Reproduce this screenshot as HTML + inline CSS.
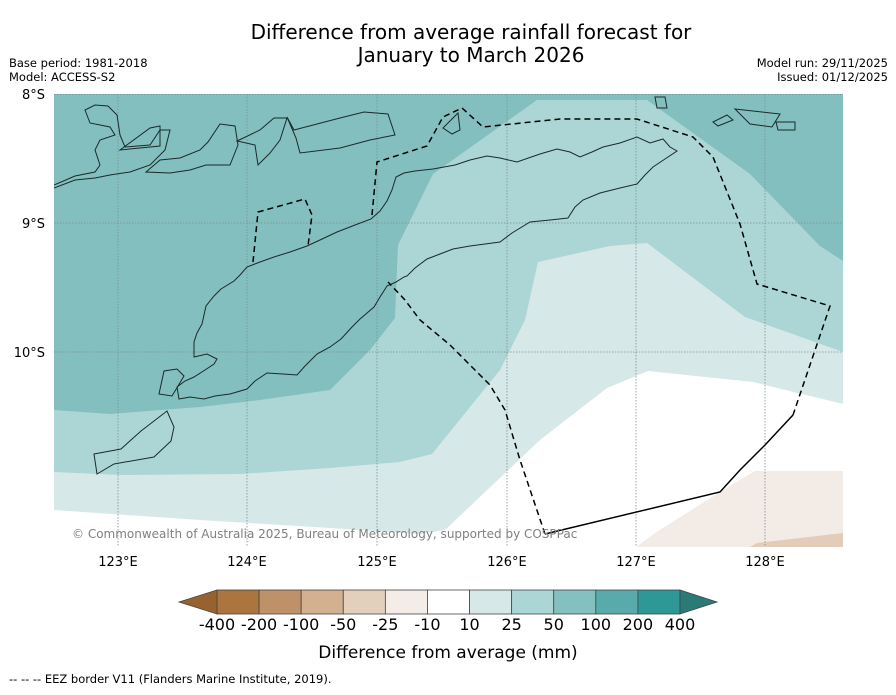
<!DOCTYPE html>
<html><head><meta charset="utf-8"><style>
body{margin:0;background:#fff;width:896px;height:690px;overflow:hidden;font-family:"Liberation Sans","DejaVu Sans",sans-serif}
svg text{font-family:"DejaVu Sans","Liberation Sans",sans-serif}
</style></head><body>
<svg width="896" height="690" viewBox="0 0 896 690">
<text x="471" y="39" font-size="20" text-anchor="middle">Difference from average rainfall forecast for</text>
<text x="471" y="62" font-size="20" text-anchor="middle">January to March 2026</text>
<text x="9" y="67" font-size="11.5">Base period: 1981-2018</text>
<text x="9" y="81" font-size="11.5">Model: ACCESS-S2</text>
<text x="888" y="67" font-size="11.5" text-anchor="end">Model run: 29/11/2025</text>
<text x="888" y="81" font-size="11.5" text-anchor="end">Issued: 01/12/2025</text>
<defs><clipPath id="mc"><rect x="54" y="94" width="789" height="453"/></clipPath></defs>
<g clip-path="url(#mc)">
<rect x="54" y="94" width="789" height="453" fill="#83bfbe"/>
<polygon fill="#acd6d5" points="400,241 433,174 537,100 647,100 750,174 820,246 843,261 843,547 54,547 54,410 110,414 200,407 260,400 330,390 370,350 395,318 398,245"/>
<polygon fill="#d6e9e8" points="843,352 745,317 647,243 610,246 538,262 525,320 500,370 432,454 400,462 330,468 240,474 120,475 54,472 54,547 843,547"/>
<polygon fill="#ffffff" points="54,510 200,520 330,528 420,534 445,530 540,440 607,388 648,371 753,382 843,404 843,547 54,547"/>
<polygon fill="#f3ebe5" points="636,547 655,533 720,492 755,471 843,471 843,547"/>
<polygon fill="#e3cdb9" points="750,547 757,543 843,533 843,547"/>
<g stroke="#7a9090" stroke-width="0.8" stroke-dasharray="1.5,1.5">
<line x1="118" y1="94" x2="118" y2="547"/><line x1="247" y1="94" x2="247" y2="547"/><line x1="377" y1="94" x2="377" y2="547"/><line x1="507" y1="94" x2="507" y2="547"/><line x1="636" y1="94" x2="636" y2="547"/><line x1="765" y1="94" x2="765" y2="547"/>
<line x1="54" y1="94.5" x2="843" y2="94.5"/><line x1="54" y1="223" x2="843" y2="223"/><line x1="54" y1="352" x2="843" y2="352"/>
</g>
<g fill="none" stroke="#1a2a2a" stroke-width="1">
<path d="M179,399 L190,397 204,399 215,396 230,394 247,389 255,381 267,373 283,374 297,375 305,366 317,354 330,347 341,339 352,327 360,319 374,307 380,297 387,286 396,282 404,277 407,276 415,268 427,259 440,254 453,249 470,246 500,242 512,233 530,222 550,220 568,218 575,207 583,200 600,193 620,188 637,184 645,175 653,167 665,159 677,151 670,147 663,139 650,143 637,137 620,143 603,147 592,152 580,157 570,152 557,149 540,154 517,162 500,158 487,156 470,160 455,165 433,169 415,171 404,173 396,177 392,190 387,201 380,211 371,219 355,225 337,232 320,240 307,246 290,252 274,257 260,262 247,267 240,275 234,281 221,289 214,296 206,306 204,315 202,324 197,333 194,342 194,357 207,354 217,359 214,364 205,370 194,377 185,381 177,387 179,399Z"/>
<path d="M159,394 L164,371 177,369 184,376 172,396Z"/>
<path d="M94,454 L121,449 141,431 167,411 174,427 171,441 154,457 114,464 97,474Z"/>
<path d="M54,185 L75,176 95,172 100,165 95,150 100,140 115,135 110,127 90,123 85,110 95,105 108,106 117,115 120,135 125,147 150,145 160,130 170,130 165,150 150,165 130,172 110,175 95,178 75,180 54,188"/>
<path d="M120,150 L150,128 160,126 160,146Z"/>
<path d="M146,172 L160,160 180,158 200,150 208,142 220,124 235,126 238,145 230,165 206,165 190,170 170,173Z"/>
<path d="M237,141 L260,130 274,118 287,118 280,140 270,153 258,165 255,145Z"/>
<path d="M296,138 L287,117 294,130 340,118 364,112 388,114 395,135 370,140 340,148 300,153Z"/>
<path d="M443,128 L458,113 460,130 452,134Z"/>
<path d="M655,97 L665,97 667,108 657,108Z"/>
<path d="M735,109 L780,114 772,127 750,124Z M713,122 L727,115 733,120 718,126Z M776,122 L795,122 795,130 778,130Z"/>
</g>
<g fill="none" stroke="#000" stroke-width="1.5">
<path stroke-dasharray="6,4" d="M253,262 L258,212 305,199 312,215 308,246"/>
<path stroke-dasharray="6,4" d="M372,215 L377,162 427,146 443,117 462,108 483,127 560,119 637,119 693,137 713,157 740,224 757,284 830,306 793,415"/>
<path d="M793,415 L765,445 740,470 720,492 545,534"/>
<path stroke-dasharray="6,4" d="M545,534 L520,460 505,410 490,385 450,345 420,320 405,300 388,282"/>
</g>
<text x="72" y="538" font-size="12" fill="#808080">© Commonwealth of Australia 2025, Bureau of Meteorology, supported by COSPPac</text>
</g>
<g font-size="13">
<text x="45" y="99" text-anchor="end">8°S</text><text x="45" y="228" text-anchor="end">9°S</text><text x="45" y="357" text-anchor="end">10°S</text>
<text x="118" y="566" text-anchor="middle">123°E</text><text x="247" y="566" text-anchor="middle">124°E</text><text x="377" y="566" text-anchor="middle">125°E</text><text x="507" y="566" text-anchor="middle">126°E</text><text x="636" y="566" text-anchor="middle">127°E</text><text x="765" y="566" text-anchor="middle">128°E</text>
</g>
<g id="cb"></g>
<text x="448" y="658" font-size="17" text-anchor="middle">Difference from average (mm)</text>
<text x="9" y="683" font-size="11.5">-- -- -- EEZ border V11 (Flanders Marine Institute, 2019).</text>
</svg>
<script>
const cbLabels=["-400","-200","-100","-50","-25","-10","10","25","50","100","200","400"];
const cbColors=["#ac7540","#bf9168","#d3b190","#e3cfbc","#f4ece6","#ffffff","#d6e9e8","#acd6d5","#84c0bf","#58abaa","#2e9896"];
const ns="http://www.w3.org/2000/svg",g=document.getElementById('cb');
const x0=217,x1=680,y0=590,h=24,w=(x1-x0)/cbColors.length;
cbColors.forEach((c,i)=>{const r=document.createElementNS(ns,'rect');
r.setAttribute('x',x0+i*w);r.setAttribute('y',y0);r.setAttribute('width',w);r.setAttribute('height',h);r.setAttribute('fill',c);r.setAttribute('stroke','#444');r.setAttribute('stroke-width','0.8');


g.appendChild(r);});
[["179,602 217,590 217,614","#98622e","colorbar-arrow-low"],["680,590 717,602 680,614","#2a7a78","colorbar-arrow-high"]].forEach(a=>{const p=document.createElementNS(ns,'polygon');
p.setAttribute('points',a[0]);p.setAttribute('fill',a[1]);p.setAttribute('stroke','#444');p.setAttribute('stroke-width','0.8');


g.appendChild(p);});
cbLabels.forEach((l,i)=>{const t=document.createElementNS(ns,'text');
t.setAttribute('x',x0+i*w);t.setAttribute('y',630);t.setAttribute('font-size','16');t.setAttribute('text-anchor','middle');t.textContent=l;


g.appendChild(t);});
</script>
</body></html>
